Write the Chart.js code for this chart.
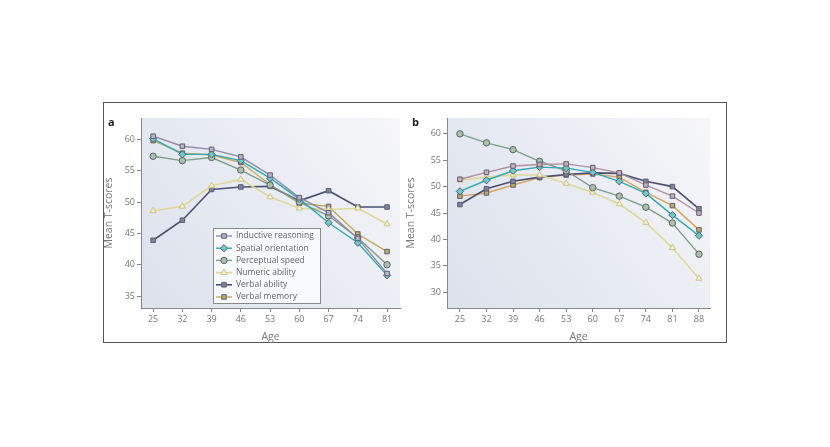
<!DOCTYPE html>
<html><head><meta charset="utf-8">
<script src="https://cdn.jsdelivr.net/npm/chart.js@4"></script>
<style>
html,body{margin:0;padding:0;background:#fff;width:830px;height:447px;overflow:hidden;font-family:"Open Sans","DejaVu Sans",sans-serif;}
#frame{position:absolute;left:103px;top:102px;width:622px;height:239px;border:1.5px solid #555;}
.wrap{position:absolute;top:102px;height:241px;}
.lab{position:absolute;font-weight:bold;font-size:11px;color:#222;}
</style></head><body>
<div id="frame"></div>
<div class="wrap" style="left:103px;width:302px"><canvas id="ca" width="302" height="241"></canvas></div>
<div class="wrap" style="left:405px;width:322px"><canvas id="cb" width="322" height="241"></canvas></div>
<div class="lab" style="left:108px;top:114px">a</div>
<div class="lab" style="left:412px;top:114px">b</div>
<script>
// ---- data ----
const agesA = [25, 32, 39, 46, 53, 60, 67, 74, 81];
const agesB = [25, 32, 39, 46, 53, 60, 67, 74, 81, 88];
const seriesNames = ["Inductive reasoning", "Spatial orientation", "Perceptual speed", "Numeric ability", "Verbal ability", "Verbal memory"];
// panel a (cross-sectional)
const inductiveA  = [60.5, 58.9, 58.4, 57.2, 54.3, 50.7, 48.3, 44.2, 38.6];
const spatialA    = [60.1, 57.6, 57.6, 56.6, 53.8, 50.5, 46.7, 43.5, 38.3];
const perceptualA = [57.3, 56.6, 57.1, 55.1, 52.7, 50.0, 47.8, 44.3, 40.0];
const numericA    = [48.6, 49.3, 52.6, 53.6, 50.8, 49.0, 48.8, 49.0, 46.5];
const verbalAbA   = [43.9, 47.1, 52.0, 52.4, 52.5, 50.2, 51.8, 49.2, 49.2];
const verbalMemA  = [59.8, 57.8, 57.5, 56.3, 52.8, 49.8, 49.3, 44.9, 42.1];
// panel b (longitudinal)
const inductiveB  = [51.4, 52.7, 53.9, 54.2, 54.3, 53.6, 52.6, 50.3, 48.2, 45.0];
const spatialB    = [49.1, 51.2, 53.0, 53.7, 53.5, 52.7, 51.0, 48.7, 44.6, 40.7];
const perceptualB = [60.0, 58.3, 57.0, 54.8, 53.0, 49.8, 48.2, 46.1, 43.1, 37.2];
const numericB    = [51.2, 51.8, 52.2, 52.2, 50.6, 48.9, 46.7, 43.2, 38.4, 32.6];
const verbalAbB   = [46.6, 49.6, 51.0, 51.8, 52.3, 52.6, 52.5, 51.0, 50.0, 45.8];
const verbalMemB  = [48.2, 48.8, 50.3, 51.7, 52.2, 52.4, 51.8, 48.9, 46.4, 41.8];
const yTicksA = [35, 40, 45, 50, 55, 60];
const yTicksB = [30, 35, 40, 45, 50, 55, 60];

const styles = [
  {line:'#8f8ba3', fill:'#b9b5c8', pt:'rect', r:3.2, w:1.4},
  {line:'#2fa9ad', fill:'#6cc9c9', pt:'rectRot', r:3.6, w:1.4},
  {line:'#7e9c8c', fill:'#a9c2a6', pt:'circle', r:3.2, w:1.4},
  {line:'#e0d89a', fill:'#f3efc9', pt:'triangle', r:3.6, w:1.6},
  {line:'#4b4f73', fill:'#7d81a0', pt:'rect', r:3.2, w:1.6},
  {line:'#c4a85a', fill:'#b8ad6a', pt:'rect', r:3.2, w:1.4}
];
const bStyles = styles.map((s,i)=> i===0 ? Object.assign({}, s, {line:'#b0909e', fill:'#c9aebb'}) : (i===5 ? Object.assign({}, s, {line:'#d9a460'}) : s));

function mk(ages, arr, sty) {
  return arr.map((vals, i) => ({
    label: seriesNames[i],
    data: ages.map((a, j) => ({x: a, y: vals[j]})),
    borderColor: sty[i].line,
    backgroundColor: sty[i].fill,
    borderWidth: sty[i].w,
    pointStyle: sty[i].pt,
    pointRadius: sty[i].r,
    pointBackgroundColor: sty[i].fill,
    pointBorderColor: i===3 ? '#cfc48a' : '#5d6070',
    pointBorderWidth: 1,
    tension: 0
  }));
}

const bgPlugin = {
  id: 'bg',
  beforeDraw(chart) {
    const {ctx, chartArea: c} = chart;
    const g = ctx.createLinearGradient(c.left, c.bottom, c.right, c.top);
    g.addColorStop(0, '#dce1ec');
    g.addColorStop(0.55, '#e9ecf3');
    g.addColorStop(1, '#f7f7f9');
    ctx.save(); ctx.fillStyle = g;
    ctx.fillRect(c.left, c.top, c.right - c.left, c.bottom - c.top);
    ctx.restore();
  }
};

const legendPlugin = {
  id: 'boxLegend',
  afterDatasetsDraw(chart) {
    const ctx = chart.ctx;
    const x0 = 110, y0 = 126, w = 107, h = 75;
    ctx.save();
    ctx.fillStyle = '#f8f9fb';
    ctx.fillRect(x0, y0, w, h);
    ctx.strokeStyle = '#8a8a8a'; ctx.lineWidth = 1;
    ctx.strokeRect(x0 + 0.5, y0 + 0.5, w, h);
    ctx.font = '8.5px "Open Sans", "DejaVu Sans", sans-serif';
    ctx.textBaseline = 'middle';
    chart.data.datasets.forEach((ds, i) => {
      const y = y0 + 8 + i * 12.2;
      ctx.strokeStyle = ds.borderColor; ctx.lineWidth = ds.borderWidth;
      ctx.beginPath(); ctx.moveTo(x0 + 3, y); ctx.lineTo(x0 + 19, y); ctx.stroke();
      ctx.fillStyle = ds.pointBackgroundColor; ctx.strokeStyle = ds.pointBorderColor;
      ctx.lineWidth = 1;
      Chart.helpers.drawPoint(ctx, {pointStyle: ds.pointStyle, radius: ds.pointRadius, borderWidth: 1, rotation: 0}, x0 + 11, y);
      ctx.fillStyle = '#666';
      ctx.fillText(ds.label, x0 + 23, y);
    });
    ctx.restore();
  }
};

function opts(ages, yTicks, xmin, xmax, ymin, ymax, yw, padR) {
  const tickFont = {size: 9, family: '"Open Sans", "DejaVu Sans", sans-serif'};
  return {
    responsive: false, animation: false,
    layout: {padding: {top: 16, right: padR, left: 0, bottom: 0}},
    plugins: {legend: {display: false}, tooltip: {enabled: false}},
    scales: {
      x: {
        type: 'linear', min: xmin, max: xmax,
        afterBuildTicks: s => { s.ticks = ages.map(v => ({value: v})); },
        afterFit: s => { s.height = 35; },
        ticks: {color: '#777', font: tickFont, padding: 2, autoSkip: false, maxRotation: 0, callback: v => v},
        grid: {display: true, drawOnChartArea: false, drawTicks: true, tickLength: 4, color: '#888'},
        border: {display: true, color: '#888', width: 1},
        title: {display: true, text: 'Age', color: '#777', font: {size: 10.5, family: '"Open Sans", "DejaVu Sans", sans-serif'}, padding: {top: 0, bottom: 0}}
      },
      y: {
        type: 'linear', min: ymin, max: ymax,
        afterBuildTicks: s => { s.ticks = yTicks.map(v => ({value: v})); },
        afterFit: s => { s.width = yw; },
        ticks: {color: '#777', font: tickFont, padding: 2},
        grid: {display: true, drawOnChartArea: false, drawTicks: true, tickLength: 4, color: '#888'},
        border: {display: true, color: '#888', width: 1},
        title: {display: true, text: 'Mean T-scores', color: '#777', font: {size: 10.5, family: '"Open Sans", "DejaVu Sans", sans-serif'}, padding: {top: 0, bottom: 2}}
      }
    }
  };
}

new Chart(document.getElementById('ca'), {
  type: 'line',
  data: {datasets: mk(agesA, [inductiveA, spatialA, perceptualA, numericA, verbalAbA, verbalMemA], styles)},
  options: opts(agesA, yTicksA, 22.1, 84.1, 33.1, 63.4, 38, 3),
  plugins: [bgPlugin, legendPlugin]
});
new Chart(document.getElementById('cb'), {
  type: 'line',
  data: {datasets: mk(agesB, [inductiveB, spatialB, perceptualB, numericB, verbalAbB, verbalMemB], bStyles)},
  options: opts(agesB, yTicksB, 21.6, 90.9, 27.0, 63.0, 42, 17),
  plugins: [bgPlugin]
});
</script>
</body></html>
